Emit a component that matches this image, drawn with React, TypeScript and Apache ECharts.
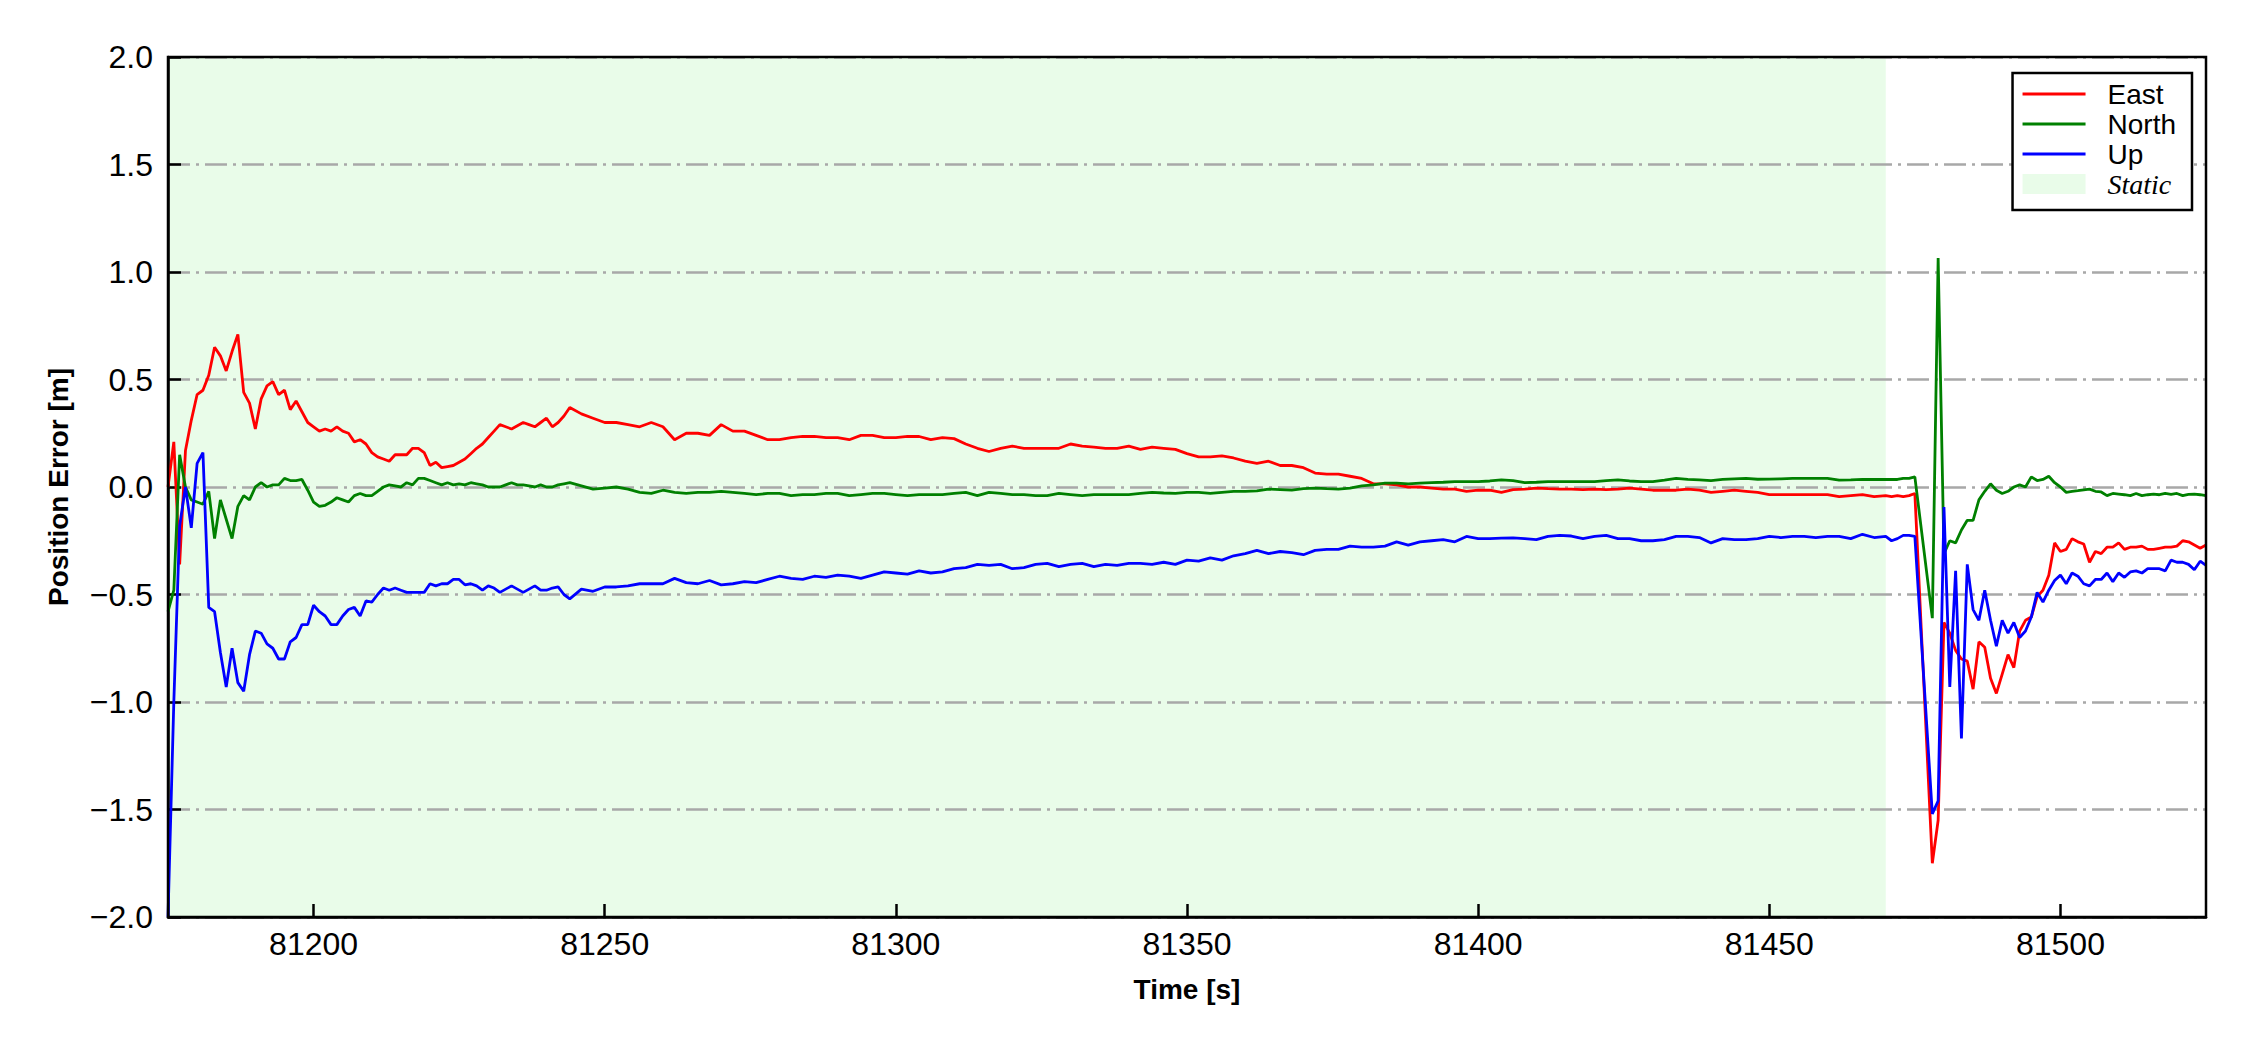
import React, { useEffect, useRef } from 'react';
import * as echarts from 'echarts';

// Time stamps [s]
const time: number[] = [
  81175, 81176, 81177, 81178, 81179, 81180, 81181, 81182, 81183, 81184,
  81185, 81186, 81187, 81188, 81189, 81190, 81191, 81192, 81193, 81194,
  81195, 81196, 81197, 81198, 81199, 81200, 81201, 81202, 81203, 81204,
  81205, 81206, 81207, 81208, 81209, 81210, 81211, 81212, 81213, 81214,
  81215, 81216, 81217, 81218, 81219, 81220, 81221, 81222, 81223, 81224,
  81225, 81226, 81227, 81228, 81229, 81230, 81231, 81232, 81233, 81234,
  81235, 81236, 81237, 81238, 81239, 81240, 81241, 81242, 81243, 81244,
  81246, 81248, 81250, 81252, 81254, 81256, 81258, 81260, 81262, 81264,
  81266, 81268, 81270, 81272, 81274, 81276, 81278, 81280, 81282, 81284,
  81286, 81288, 81290, 81292, 81294, 81296, 81298, 81300, 81302, 81304,
  81306, 81308, 81310, 81312, 81314, 81316, 81318, 81320, 81322, 81324,
  81326, 81328, 81330, 81332, 81334, 81336, 81338, 81340, 81342, 81344,
  81346, 81348, 81350, 81352, 81354, 81356, 81358, 81360, 81362, 81364,
  81366, 81368, 81370, 81372, 81374, 81376, 81378, 81380, 81382, 81384,
  81386, 81388, 81390, 81392, 81394, 81396, 81398, 81400, 81402, 81404,
  81406, 81408, 81410, 81412, 81414, 81416, 81418, 81420, 81422, 81424,
  81426, 81428, 81430, 81432, 81434, 81436, 81438, 81440, 81442, 81444,
  81446, 81448, 81450, 81452, 81454, 81456, 81458, 81460, 81462, 81464,
  81466, 81468, 81470,
  81471, 81472, 81473, 81474, 81475,
  81478, 81479, 81480, 81481, 81482, 81483, 81484, 81485, 81486, 81487,
  81488, 81489, 81490, 81491, 81492, 81493, 81494, 81495, 81496, 81497,
  81498, 81499, 81500, 81501, 81502, 81503, 81504, 81505, 81506, 81507,
  81508, 81509, 81510, 81511, 81512, 81513, 81514, 81515, 81516, 81517,
  81518, 81519, 81520, 81521, 81522, 81523, 81524, 81525,
];

// East error [m]
const east: number[] = [
  0.0, 0.21, -0.36, 0.17, 0.31, 0.43, 0.45, 0.52, 0.65, 0.61,
  0.54, 0.63, 0.71, 0.44, 0.39, 0.27, 0.41, 0.47, 0.49, 0.43,
  0.45, 0.36, 0.40, 0.35, 0.30, 0.28, 0.26, 0.27, 0.26, 0.28,
  0.26, 0.25, 0.21, 0.22, 0.20, 0.16, 0.14, 0.13, 0.12, 0.15,
  0.15, 0.15, 0.18, 0.18, 0.16, 0.10, 0.115, 0.09, 0.095, 0.10,
  0.115, 0.13, 0.155, 0.18, 0.20, 0.23, 0.26, 0.29, 0.28, 0.27,
  0.285, 0.30, 0.29, 0.28, 0.30, 0.32, 0.28, 0.30, 0.33, 0.37,
  0.34, 0.32, 0.30, 0.30, 0.29, 0.28, 0.30, 0.28, 0.22, 0.25,
  0.25, 0.24, 0.29, 0.26, 0.26, 0.24, 0.22, 0.22, 0.23, 0.235,
  0.235, 0.23, 0.23, 0.22, 0.24, 0.24, 0.23, 0.23, 0.235, 0.235,
  0.22, 0.23, 0.225, 0.20, 0.18, 0.165, 0.18, 0.19, 0.18, 0.18,
  0.18, 0.18, 0.20, 0.19, 0.185, 0.18, 0.18, 0.19, 0.175, 0.185,
  0.18, 0.175, 0.155, 0.14, 0.14, 0.145, 0.135, 0.12, 0.11, 0.12,
  0.10, 0.10, 0.09, 0.065, 0.06, 0.06, 0.05, 0.04, 0.015, 0.015,
  0.01, 0.0, 0.0, -0.005, -0.01, -0.01, -0.02, -0.015, -0.015, -0.025,
  -0.012, -0.01, -0.005, -0.008, -0.01, -0.01, -0.012, -0.01, -0.012, -0.01,
  -0.005, -0.01, -0.015, -0.015, -0.015, -0.01, -0.015, -0.025, -0.02, -0.015,
  -0.02, -0.025, -0.035, -0.035, -0.035, -0.035, -0.035, -0.035, -0.045, -0.04,
  -0.035, -0.045, -0.04,
  -0.045, -0.04, -0.045, -0.04, -0.03,
  -1.75, -1.55, -0.63, -0.68, -0.76, -0.80, -0.81, -0.94, -0.72, -0.745,
  -0.89, -0.96, -0.87, -0.78, -0.84, -0.67, -0.62, -0.605, -0.51, -0.48,
  -0.41, -0.26, -0.30, -0.29, -0.24, -0.255, -0.265, -0.35, -0.30, -0.31,
  -0.28, -0.28, -0.26, -0.29, -0.28, -0.28, -0.275, -0.29, -0.29, -0.285,
  -0.28, -0.28, -0.275, -0.25, -0.255, -0.27, -0.285, -0.27,
];

// North error [m]
const north: number[] = [
  -0.58, -0.48, 0.15, 0.0, -0.06, -0.07, -0.08, -0.02, -0.24, -0.06,
  -0.15, -0.24, -0.09, -0.04, -0.06, 0.0, 0.02, 0.0, 0.01, 0.01,
  0.04, 0.03, 0.03, 0.035, -0.015, -0.07, -0.09, -0.085, -0.07, -0.05,
  -0.06, -0.07, -0.04, -0.03, -0.04, -0.04, -0.02, 0.0, 0.01, 0.005,
  0.0, 0.02, 0.01, 0.04, 0.04, 0.03, 0.02, 0.01, 0.02, 0.01,
  0.015, 0.01, 0.02, 0.015, 0.01, 0.0, 0.0, 0.0, 0.01, 0.02,
  0.01, 0.01, 0.005, 0.0, 0.01, 0.0, 0.0, 0.01, 0.015, 0.02,
  0.005, -0.01, -0.005, 0.0, -0.01, -0.025, -0.03, -0.015, -0.025, -0.03,
  -0.025, -0.025, -0.02, -0.025, -0.03, -0.035, -0.03, -0.03, -0.04, -0.035,
  -0.035, -0.03, -0.03, -0.04, -0.035, -0.03, -0.03, -0.035, -0.04, -0.035,
  -0.035, -0.035, -0.03, -0.025, -0.04, -0.025, -0.03, -0.035, -0.035, -0.04,
  -0.04, -0.03, -0.035, -0.04, -0.035, -0.035, -0.035, -0.035, -0.03, -0.025,
  -0.028, -0.03, -0.025, -0.025, -0.03, -0.025, -0.02, -0.02, -0.018, -0.01,
  -0.012, -0.015, -0.008, -0.005, -0.008, -0.01, -0.005, 0.005, 0.01, 0.018,
  0.018, 0.015, 0.018, 0.02, 0.022, 0.025, 0.025, 0.025, 0.028, 0.033,
  0.03, 0.02, 0.022, 0.025, 0.025, 0.025, 0.025, 0.025, 0.03, 0.033,
  0.028, 0.025, 0.025, 0.032, 0.04, 0.035, 0.033, 0.03, 0.035, 0.038,
  0.04, 0.036, 0.037, 0.038, 0.04, 0.04, 0.04, 0.04, 0.032, 0.033,
  0.035, 0.035, 0.035,
  0.035, 0.035, 0.04, 0.04, 0.047,
  -0.61, 1.065, -0.31, -0.25, -0.26, -0.20, -0.155, -0.155, -0.06, -0.02,
  0.015, -0.015, -0.03, -0.02, 0.0, 0.01, 0.0, 0.047, 0.03, 0.035,
  0.05, 0.02, 0.0, -0.025, -0.02, -0.017, -0.013, -0.01, -0.02, -0.023,
  -0.04, -0.03, -0.033, -0.036, -0.04, -0.03, -0.04, -0.036, -0.033, -0.036,
  -0.03, -0.034, -0.03, -0.04, -0.034, -0.033, -0.036, -0.04,
];

// Up error [m]
const up: number[] = [
  -2.0, -1.0, -0.18, 0.0, -0.19, 0.11, 0.16, -0.56, -0.58, -0.77,
  -0.93, -0.75, -0.91, -0.95, -0.78, -0.67, -0.68, -0.73, -0.75, -0.80,
  -0.80, -0.72, -0.70, -0.64, -0.64, -0.55, -0.58, -0.60, -0.64, -0.64,
  -0.60, -0.57, -0.56, -0.60, -0.53, -0.535, -0.50, -0.47, -0.48, -0.47,
  -0.48, -0.49, -0.49, -0.49, -0.49, -0.45, -0.46, -0.45, -0.45, -0.43,
  -0.43, -0.455, -0.45, -0.46, -0.48, -0.46, -0.47, -0.49, -0.475, -0.46,
  -0.475, -0.49, -0.475, -0.46, -0.48, -0.48, -0.47, -0.465, -0.50, -0.52,
  -0.475, -0.485, -0.465, -0.465, -0.46, -0.45, -0.45, -0.45, -0.425, -0.445,
  -0.45, -0.435, -0.455, -0.45, -0.44, -0.445, -0.43, -0.415, -0.425, -0.43,
  -0.415, -0.42, -0.41, -0.415, -0.425, -0.41, -0.395, -0.40, -0.405, -0.39,
  -0.40, -0.395, -0.38, -0.375, -0.36, -0.365, -0.36, -0.38, -0.375, -0.36,
  -0.355, -0.37, -0.36, -0.355, -0.37, -0.36, -0.365, -0.355, -0.355, -0.36,
  -0.35, -0.36, -0.34, -0.345, -0.33, -0.34, -0.32, -0.31, -0.295, -0.31,
  -0.30, -0.305, -0.315, -0.295, -0.29, -0.29, -0.275, -0.28, -0.28, -0.275,
  -0.255, -0.27, -0.255, -0.25, -0.245, -0.255, -0.23, -0.24, -0.24, -0.238,
  -0.237, -0.24, -0.245, -0.23, -0.225, -0.228, -0.24, -0.23, -0.225, -0.24,
  -0.24, -0.25, -0.25, -0.245, -0.23, -0.23, -0.235, -0.26, -0.24, -0.245,
  -0.245, -0.24, -0.23, -0.235, -0.23, -0.23, -0.235, -0.23, -0.23, -0.24,
  -0.22, -0.235, -0.23,
  -0.25, -0.24, -0.225, -0.225, -0.23,
  -1.52, -1.46, -0.093, -0.93, -0.39, -1.17, -0.36, -0.57, -0.62, -0.48,
  -0.62, -0.74, -0.62, -0.68, -0.63, -0.70, -0.67, -0.605, -0.49, -0.535,
  -0.48, -0.435, -0.41, -0.45, -0.40, -0.415, -0.45, -0.46, -0.43, -0.43,
  -0.40, -0.44, -0.40, -0.42, -0.395, -0.39, -0.40, -0.38, -0.38, -0.38,
  -0.39, -0.34, -0.35, -0.35, -0.36, -0.385, -0.345, -0.365,
];

const xTicks: number[] = [81200, 81250, 81300, 81350, 81400, 81450, 81500];
const xRange: number[] = [81175, 81525];
const yRange: number[] = [-2.0, 2.0];
const yStep = 0.5;
const staticPeriod: number[] = [81175, 81470];

const seriesNames = ['East', 'North', 'Up'];
const seriesColors = ['#ff0000', '#008000', '#0000ff'];
const staticColor = '#e9fce9';

// legend line sample: 63 x 20 box with a 3px bar in the middle
const lineIcon = 'path://M0,0L0.01,0M0,8.5L63,8.5L63,11.5L0,11.5ZM63,20L62.99,20';

export default function App() {
  const ref = useRef<HTMLDivElement>(null);

  useEffect(() => {
    if (!ref.current) return;
    const chart = echarts.init(ref.current, null, { renderer: 'svg' });
    const sans = 'Liberation Sans, Arial, sans-serif';
    const values = [east, north, up];

    const lineSeries = seriesNames.map((name, k) => ({
      name,
      type: 'line',
      z: 3,
      color: seriesColors[k],
      symbol: 'none',
      showSymbol: false,
      clip: true,
      lineStyle: { color: seriesColors[k], width: 2.8 },
      data: time.map((t, i) => [t, values[k][i]]),
    }));

    const legendText = { fontFamily: sans, fontSize: 28, color: '#000', padding: [0, 0, 0, 17] };

    chart.setOption({
      animation: false,
      backgroundColor: '#ffffff',
      grid: {
        left: 168,
        right: 44,
        top: 57,
        bottom: 133,
        show: true,
        borderColor: '#000',
        borderWidth: 2.5,
        backgroundColor: 'transparent',
        z: 6,
      },
      legend: {
        orient: 'vertical',
        right: 58,
        top: 73,
        z: 10,
        backgroundColor: '#ffffff',
        borderColor: '#000',
        borderWidth: 2.5,
        borderRadius: 0,
        padding: [7, 16, 12, 10],
        itemWidth: 63,
        itemHeight: 20,
        itemGap: 2,
        selectedMode: false,
        textStyle: legendText,
        data: [
          { name: 'East', icon: lineIcon },
          { name: 'North', icon: lineIcon },
          { name: 'Up', icon: lineIcon },
          {
            name: 'Static',
            icon: 'rect',
            itemStyle: { color: staticColor },
            textStyle: {
              ...legendText,
              fontFamily: 'Liberation Serif, Times New Roman, serif',
              fontStyle: 'italic',
            },
          },
        ],
      },
      xAxis: {
        type: 'value',
        min: xRange[0],
        max: xRange[1],
        z: 2,
        name: 'Time [s]',
        nameLocation: 'middle',
        nameGap: 58,
        nameTextStyle: { fontFamily: sans, fontSize: 28, fontWeight: 'bold', color: '#000' },
        axisLine: { show: true, onZero: false, lineStyle: { color: '#000', width: 2.5 } },
        axisTick: {
          show: true,
          inside: true,
          length: 13,
          customValues: xTicks,
          lineStyle: { color: '#000', width: 2.5 },
        },
        axisLabel: {
          customValues: xTicks,
          margin: 11,
          fontFamily: sans,
          fontSize: 32,
          color: '#000',
          formatter: (v: number) => String(v),
        },
        splitLine: { show: false },
      },
      yAxis: {
        type: 'value',
        min: yRange[0],
        max: yRange[1],
        interval: yStep,
        z: 2,
        name: 'Position Error [m]',
        nameLocation: 'middle',
        nameGap: 96,
        nameRotate: 90,
        nameTextStyle: { fontFamily: sans, fontSize: 28, fontWeight: 'bold', color: '#000' },
        axisLine: { show: true, onZero: false, lineStyle: { color: '#000', width: 2.5 } },
        axisTick: { show: true, inside: true, length: 13, lineStyle: { color: '#000', width: 2.5 } },
        axisLabel: {
          margin: 15,
          fontFamily: sans,
          fontSize: 32,
          color: '#000',
          formatter: (v: number) => v.toFixed(1).replace('-', '\u2212'),
        },
        splitLine: {
          show: true,
          lineStyle: { color: '#a8a8a8', width: 2.5, type: [22, 6, 3, 6] },
        },
      },
      series: [
        {
          name: 'Static',
          type: 'line',
          z: 0,
          color: staticColor,
          symbol: 'none',
          data: [],
          markArea: {
            silent: true,
            itemStyle: { color: staticColor, opacity: 1 },
            data: [[{ xAxis: staticPeriod[0] }, { xAxis: staticPeriod[1] }]],
          },
        },
        ...lineSeries,
      ],
    });

    return () => chart.dispose();
  }, []);

  return (
    <div
      ref={ref}
      style={{ position: 'fixed', left: 0, top: 0, width: 2250, height: 1050, background: '#fff' }}
    />
  );
}
